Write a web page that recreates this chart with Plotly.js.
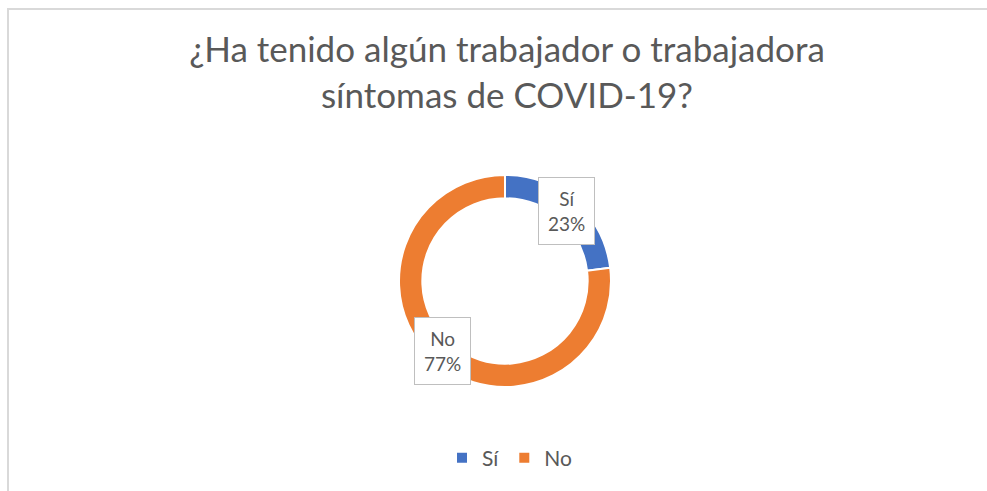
<!DOCTYPE html>
<html>
<head>
<meta charset="utf-8">
<script src="https://cdn.plot.ly/plotly-3.0.1.min.js"></script>
<style>
  html, body { margin: 0; padding: 0; background: #ffffff; }
  #wrap { position: relative; width: 987px; height: 491px; overflow: hidden; }
  #frame { position: absolute; left: 7px; top: 8px; width: 1200px; height: 800px;
           border: 2px solid #d9d9d9; box-sizing: border-box; pointer-events: none; }
  #chart { position: absolute; left: 0; top: 0; width: 987px; height: 491px; }
</style>
</head>
<body>
<div id="wrap">
  <div id="chart"></div>
  <div id="frame"></div>
</div>
<script>
const categories = ["Sí", "No"];
const values = [23, 77];
const colors = ["#4472C4", "#ED7D31"];
const titleText = "¿Ha tenido algún trabajador o trabajadora<br>síntomas de COVID-19?";

const total = values.reduce((a, b) => a + b, 0);
const pctLabels = categories.map((c, i) => c + "<br>" + Math.round(values[i] / total * 100) + "%");

const FONT = "Lato, 'Open Sans', sans-serif";
const GREY = "#595959";

const trace = {
  type: "pie",
  labels: categories,
  values: values,
  sort: false,
  direction: "clockwise",
  rotation: 0,
  hole: 0.78,
  marker: { colors: colors, line: { color: "#ffffff", width: 2 } },
  textinfo: "none",
  hoverinfo: "label+percent",
  domain: { x: [399 / 987, 611 / 987], y: [1 - 387 / 491, 1 - 175 / 491] }
};

const labelPos = [
  { x: 566 / 987, y: 1 - 211 / 491 },
  { x: 442 / 987, y: 1 - 351 / 491 }
];

const annotations = pctLabels.map((t, i) => ({
  text: t,
  xref: "paper", yref: "paper",
  x: labelPos[i].x, y: labelPos[i].y,
  xanchor: "center", yanchor: "middle",
  showarrow: false,
  font: { family: FONT, size: 19, color: GREY },
  bgcolor: "#ffffff",
  bordercolor: "#bfbfbf",
  borderwidth: 1,
  borderpad: 9,
  align: "center"
}));

const layout = {
  width: 987, height: 491,
  margin: { l: 0, r: 0, t: 0, b: 0 },
  paper_bgcolor: "#ffffff",
  plot_bgcolor: "#ffffff",
  title: {
    text: titleText,
    font: { family: FONT, size: 35, color: GREY },
    x: 507 / 987, xanchor: "center",
    y: 1 - 62 / 491, yanchor: "top",
    xref: "container", yref: "container"
  },
  showlegend: true,
  legend: {
    orientation: "h",
    x: 510 / 987, xanchor: "center",
    y: 1 - 458 / 491, yanchor: "middle",
    font: { family: FONT, size: 21, color: GREY },
    bgcolor: "rgba(0,0,0,0)"
  },
  annotations: annotations
};

Plotly.newPlot("chart", [trace], layout, { displayModeBar: false, staticPlot: true });
</script>
</body>
</html>
